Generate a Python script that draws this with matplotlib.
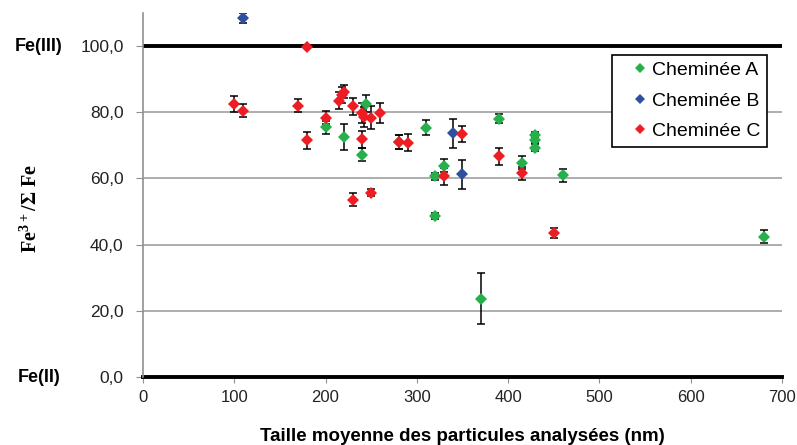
import matplotlib
matplotlib.use("Agg")
import matplotlib.pyplot as plt
from matplotlib.ticker import FuncFormatter
import matplotlib.transforms as mtransforms

# Cheminée A
xa = [200, 220, 244, 240, 280, 310, 320, 330, 320, 370, 390, 415, 430, 430, 430, 460, 680]
ya = [75.4, 72.6, 82.6, 67.2, 71.0, 75.3, 60.6, 63.9, 48.7, 23.6, 78.1, 64.8, 73.0, 71.6, 69.3, 60.9, 42.4]
ea = [2.0, 4.0, 2.5, 2.0, 2.0, 2.3, 1.0, 2.0, 1.0, 7.7, 1.3, 2.0, 1.0, 1.0, 1.0, 2.0, 2.0]

# Cheminée B
xb = [110, 340, 350]
yb = [108.4, 73.6, 61.2]
eb = [1.5, 4.5, 4.5]

# Cheminée C
xc = [100, 110, 170, 180, 180, 200, 215, 218, 220, 230, 240, 242, 240, 250, 260, 280, 290,
      230, 250, 330, 350, 390, 415, 450]
yc = [82.6, 80.5, 82.0, 71.5, 99.8, 78.4, 83.5, 85.2, 86.2, 81.8, 79.8, 78.5, 71.8, 78.4, 79.9, 71.0, 70.8,
      53.6, 55.7, 60.6, 73.5, 66.7, 61.6, 43.6]
ec = [2.4, 2.0, 2.0, 2.5, 0.5, 2.0, 2.5, 2.5, 2.0, 2.5, 3.0, 3.0, 2.5, 3.5, 3.0, 2.0, 2.5,
      2.0, 1.0, 2.5, 2.5, 2.5, 2.0, 1.5]

yticks = [0, 20, 40, 60, 80, 100]
xticks = [0, 100, 200, 300, 400, 500, 600, 700]

plt.rcParams['mathtext.default'] = 'regular'

fig = plt.figure(figsize=(7.97, 4.45), dpi=100)
ax = fig.add_axes([0.1794, 0.1528, 0.8016, 0.818])

series = [(xa, ya, ea, '#25b04b', 'Cheminée A'),
          (xb, yb, eb, '#2f4f9f', 'Cheminée B'),
          (xc, yc, ec, '#ee1d23', 'Cheminée C')]
for x, y, e, col, lab in series:
    ax.errorbar(x, y, yerr=e, fmt='none', ecolor='black', elinewidth=1.1, capsize=3, capthick=1.1, zorder=3)
    ax.plot(x, y, 'D', color=col, markersize=6, markeredgewidth=0, zorder=4)
    ax.plot([], [], 'D', color=col, markersize=5, markeredgewidth=0, label=lab)

ax.set_xlim(0, 700)
ax.set_ylim(0, 110)
ax.set_xticks(xticks)
ax.set_yticks(yticks)
ax.yaxis.set_major_formatter(FuncFormatter(lambda v, p: f"{v:.1f}".replace('.', ',')))

for v in [20, 40, 60, 80]:
    ax.axhline(v, color='#a0a0a0', lw=1.2, zorder=1)
ax.axhline(100, color='black', lw=2.8, zorder=2)
ax.axhline(0, color='black', lw=2.8, zorder=2, clip_on=False)

for s in ['top', 'right', 'bottom']:
    ax.spines[s].set_visible(False)
ax.spines['left'].set_color('#909090')
ax.spines['left'].set_linewidth(1.2)

ax.tick_params(axis='y', length=5, color='#909090', pad=9, labelsize=12.5, labelcolor='#222222')
ax.tick_params(axis='x', length=4, color='#909090', pad=5, labelsize=12, labelcolor='#222222')
for t in ax.get_xticklabels() + ax.get_yticklabels():
    t.set_fontfamily('Liberation Sans')

ax.set_xlabel('Taille moyenne des particules analysées (nm)', fontsize=13.5, fontweight='bold',
              family='Liberation Sans', labelpad=17)
ax.set_ylabel('Fe$^{3+}$/Σ Fe', fontsize=14.5, fontweight='bold', family='Liberation Serif')
ax.yaxis.set_label_coords(-0.158, 0.464)

trans = mtransforms.blended_transform_factory(ax.transAxes, ax.transData)
ax.text(-0.163, 100, 'Fe(III)', transform=trans, ha='center', va='center', fontsize=13,
        fontweight='bold', family='Liberation Sans')
ax.text(-0.163, 0, 'Fe(II)', transform=trans, ha='center', va='center', fontsize=13,
        fontweight='bold', family='Liberation Sans')

leg = ax.legend(loc='upper left', bbox_to_anchor=(0.734, 0.885), fancybox=False, framealpha=1,
                edgecolor='black', prop={'family': 'Liberation Sans', 'size': 14},
                handlelength=2.18, handletextpad=-0.47, borderpad=0.35, labelspacing=0.65,
                borderaxespad=0)
leg.get_frame().set_linewidth(1.2)

fig.savefig('out.png', dpi=100)
